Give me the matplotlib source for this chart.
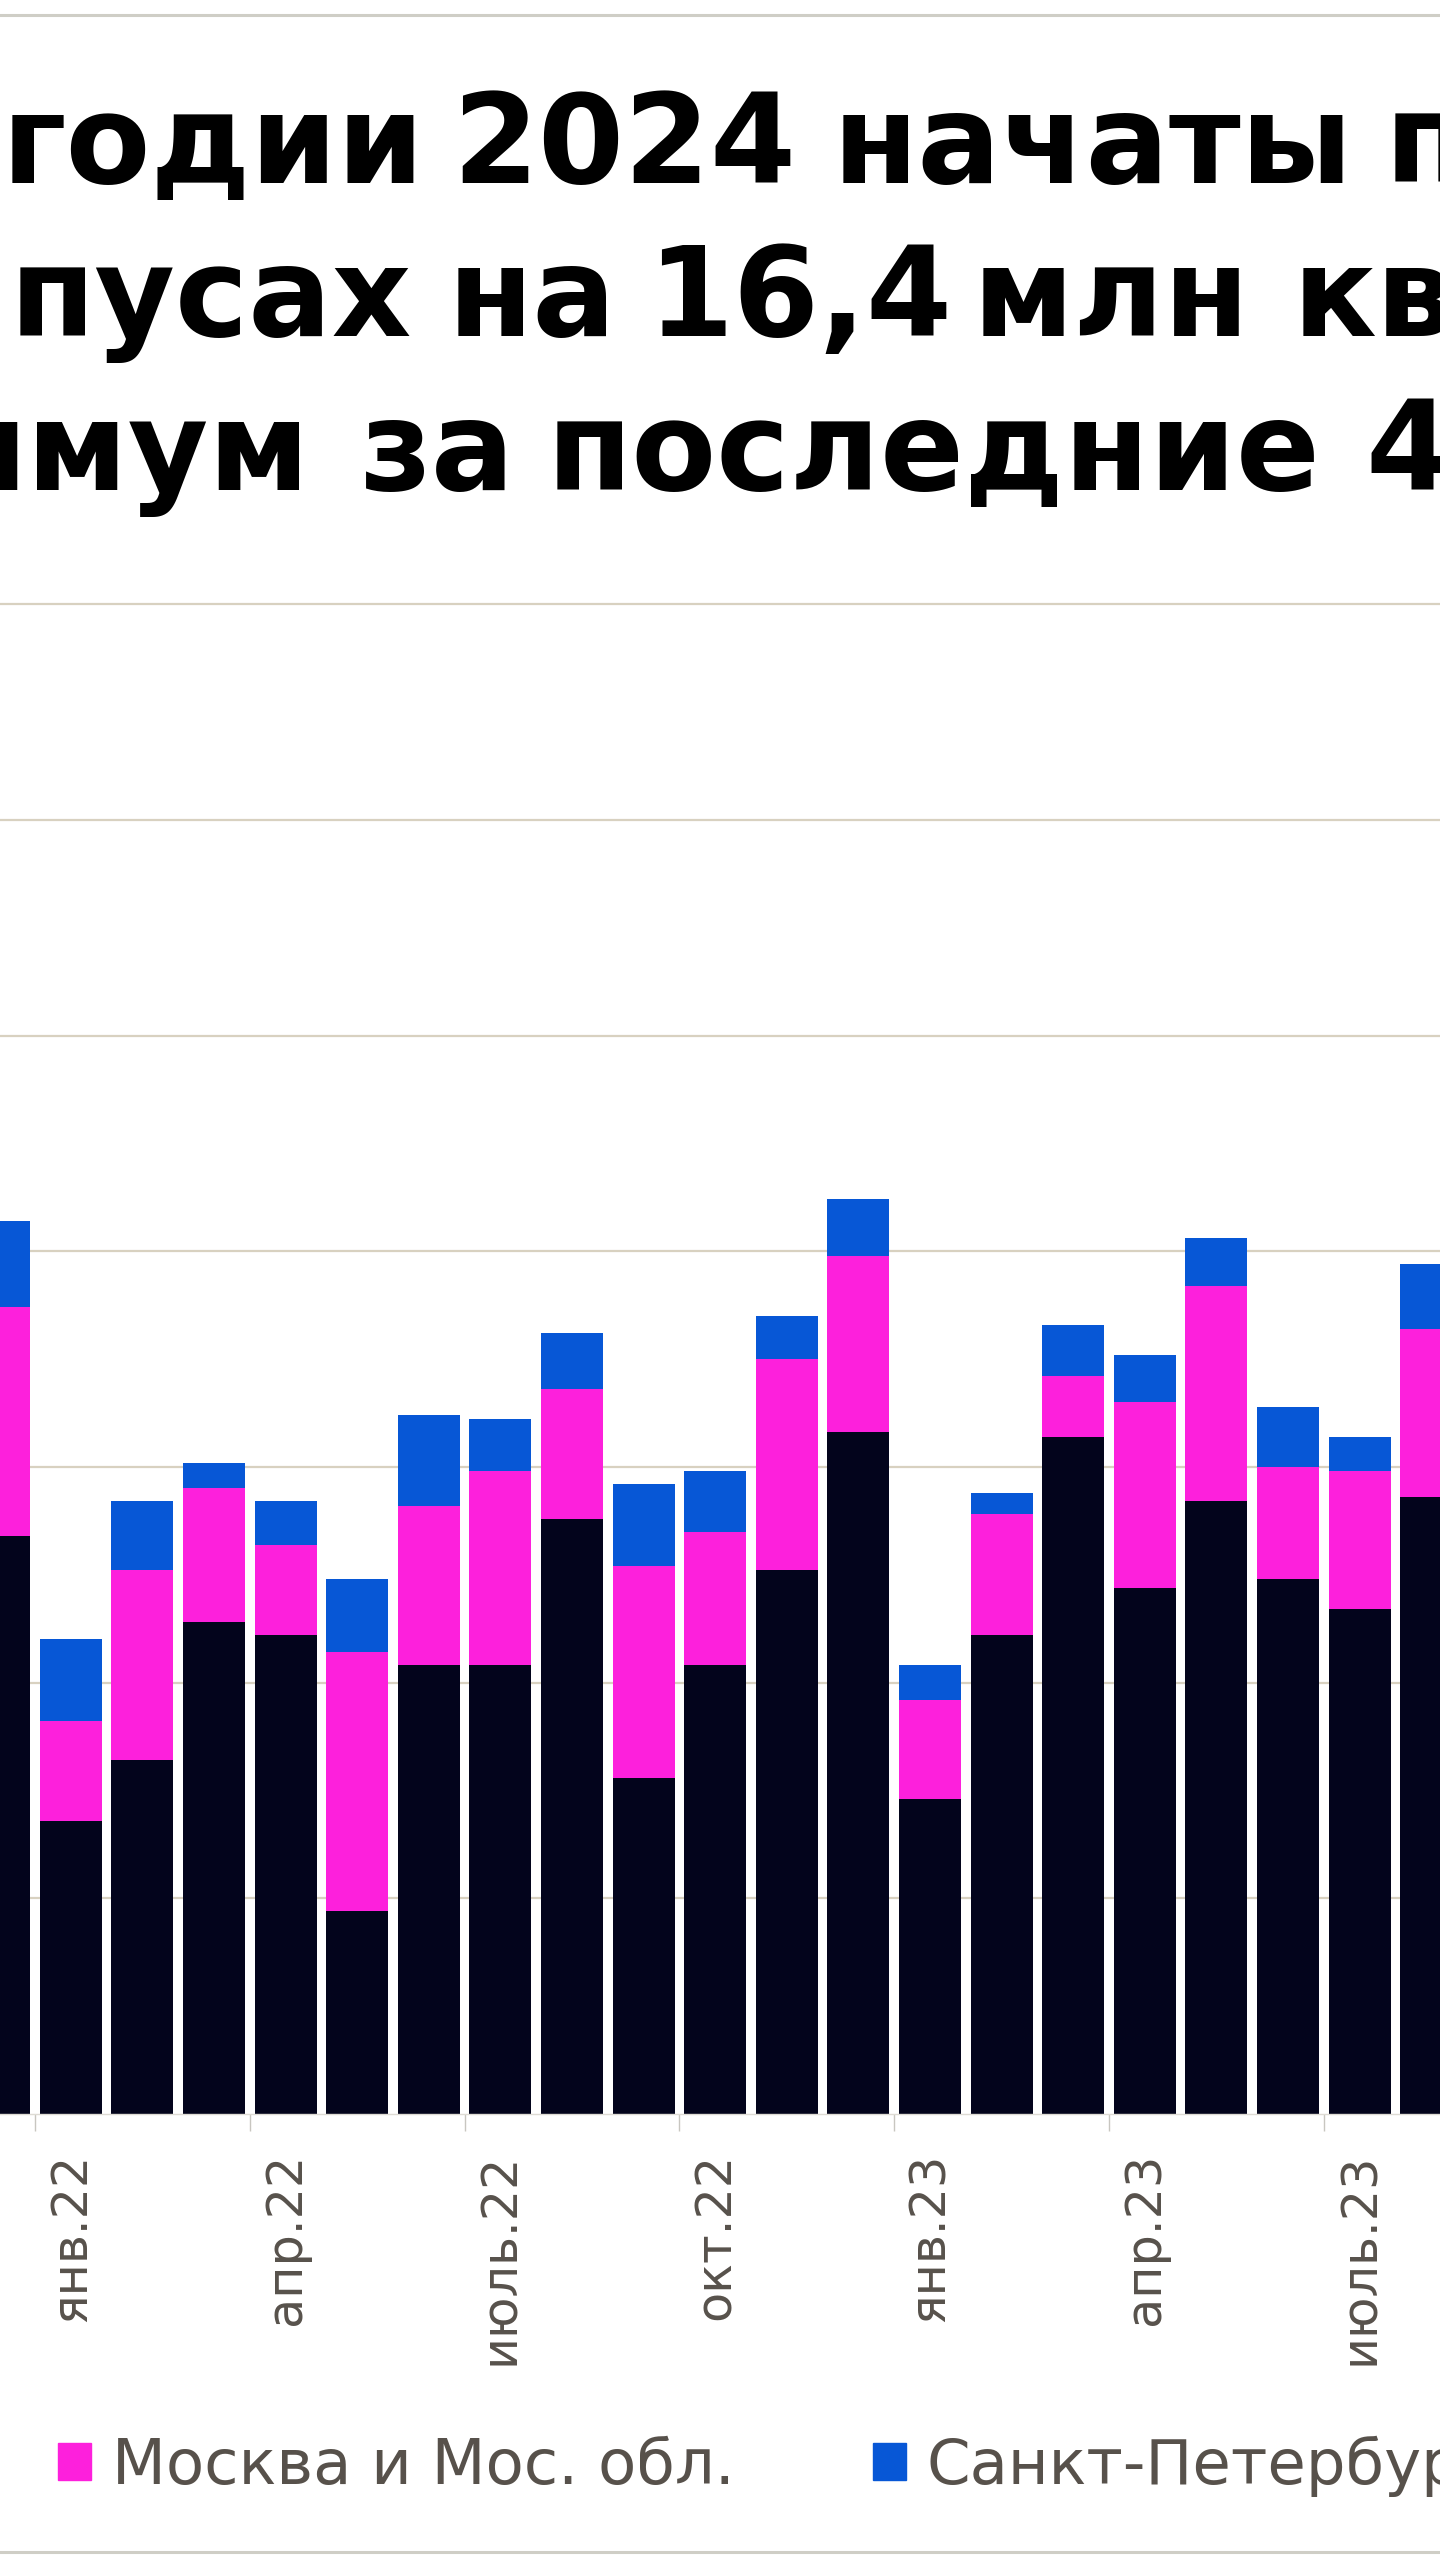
import numpy as np
import matplotlib.pyplot as plt
from matplotlib.patches import Patch
from matplotlib.lines import Line2D

# monthly data, mln sq m
months = ["дек.21", "янв.22", "февр.22", "март.22", "апр.22", "май.22", "июнь.22",
          "июль.22", "авг.22", "сент.22", "окт.22", "нояб.22", "дек.22", "янв.23",
          "февр.23", "март.23", "апр.23", "май.23", "июнь.23", "июль.23", "авг.23"]
other = [1.34, 0.68, 0.82, 1.14, 1.11, 0.47, 1.04, 1.04, 1.38, 0.78, 1.04,
         1.26, 1.58, 0.73, 1.11, 1.57, 1.22, 1.42, 1.24, 1.17, 1.43]
moscow = [0.53, 0.23, 0.44, 0.31, 0.21, 0.60, 0.37, 0.45, 0.30, 0.49, 0.31,
          0.49, 0.41, 0.23, 0.28, 0.14, 0.43, 0.50, 0.26, 0.32, 0.39]
spb = [0.20, 0.19, 0.16, 0.06, 0.10, 0.17, 0.21, 0.12, 0.13, 0.19, 0.14,
       0.10, 0.13, 0.08, 0.05, 0.12, 0.11, 0.11, 0.14, 0.08, 0.15]
legend_labels = ["Москва и Мос. обл.", "Санкт-Петербург"]

# title words as they show in the crop: (text, x px, baseline px, align)
title_words = [
    ("годии", 2, 183, "left"), ("2024", 452, 183, "left"),
    ("начаты", 833, 183, "left"), ("п", 1385, 183, "left"),
    ("пусах", 10, 336, "left"), ("на", 448, 336, "left"),
    ("16,4", 647, 336, "left"), ("млн", 973, 336, "left"), ("кв", 1293, 336, "left"),
    ("имум", 310, 490, "right"), ("за", 360, 490, "left"),
    ("последние", 547, 490, "left"), ("4", 1365, 490, "left"),
]

c_other = "#03041c"
c_msk = "#fd20dc"
c_spb = "#0757d6"
c_text = "#57514b"
c_grid = "#d8d1c0"

W, H = 1440, 2560
fig = plt.figure(figsize=(W / 100, H / 100), dpi=100)
fig.patch.set_facecolor("white")

base_y, top_y = 2114, 590
ax = fig.add_axes([0, 1 - base_y / H, 1, (base_y - top_y) / H])

x = np.arange(len(months))
other = np.array(other)
moscow = np.array(moscow)
spb = np.array(spb)
bw = 0.866
ax.bar(x, other, width=bw, color=c_other)
ax.bar(x, moscow, width=bw, bottom=other, color=c_msk)
ax.bar(x, spb, width=bw, bottom=other + moscow, color=c_spb)

px_per_unit = 431.4
pitch = 71.6
ax.set_ylim(0, (base_y - top_y) / px_per_unit)
ax.set_xlim(0.01, 0.01 + W / pitch)

ax.set_yticks(np.arange(0.5, 3.51, 0.5))
ax.yaxis.grid(True, color=c_grid, lw=1.6)
ax.set_axisbelow(True)
ax.tick_params(axis="y", left=False, labelleft=False)
for s in ["top", "left", "right"]:
    ax.spines[s].set_visible(False)
ax.spines["bottom"].set_color("#dedbd4")
ax.spines["bottom"].set_linewidth(1)

major = x[1::3]
ax.set_xticks(major)
ax.set_xticklabels([months[i] for i in major], rotation=90, fontsize=35.5,
                   color=c_text, family="DejaVu Sans")
ax.tick_params(axis="x", which="major", length=0, pad=28)
ax.set_xticks(major - 0.5, minor=True)
ax.tick_params(axis="x", which="minor", length=12, width=1, color="#c8c6c0")

for word, px, py, ha in title_words:
    fig.text(px / W, 1 - py / H, word, ha=ha, va="baseline", fontsize=89,
             fontweight="bold", family="DejaVu Sans", color="black")

handles = [Patch(color=c_msk), Patch(color=c_spb)]
fig.legend(handles, legend_labels, loc="center left",
           bbox_to_anchor=(58 / W, 1 - 2466 / H), ncol=2, frameon=False,
           prop={"family": "DejaVu Sans", "size": 45}, labelcolor=c_text,
           handlelength=0.53, handleheight=0.53, handletextpad=0.34,
           columnspacing=2.2, borderpad=0, borderaxespad=0)

for yy in [15, 2552]:
    fig.add_artist(Line2D([0, 1], [1 - yy / H] * 2, transform=fig.transFigure,
                          color="#cfcec6", lw=2.2))

fig.savefig("out.png", dpi=100)
